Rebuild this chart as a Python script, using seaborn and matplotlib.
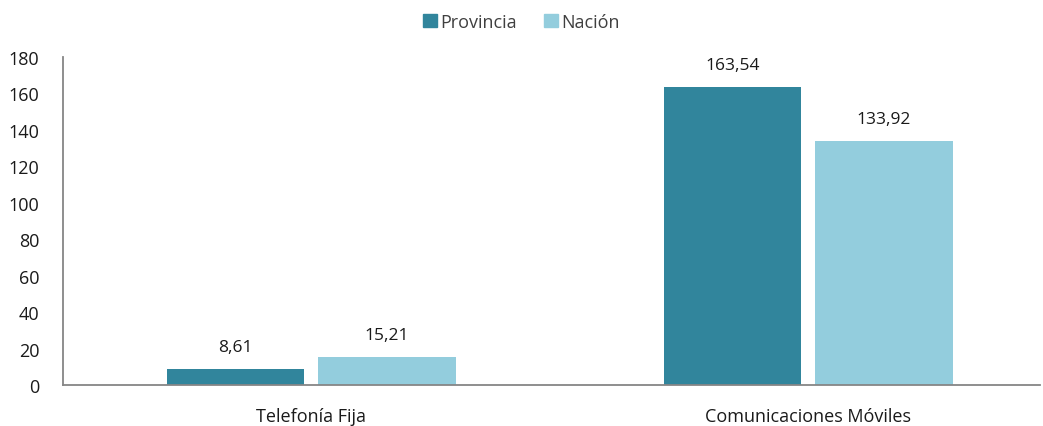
import matplotlib
matplotlib.use("Agg")
import matplotlib.pyplot as plt
import seaborn as sns
import pandas as pd

# datos
categorias = ["Telefonía Fija", "Comunicaciones Móviles"]
provincia = [8.61, 163.54]
nacion = [15.21, 133.92]
series = ["Provincia", "Nación"]
colores = ["#31859C", "#93CDDD"]

sns.set_style("white")
plt.rcParams['font.family'] = ['Open Sans', 'DejaVu Sans']

df = pd.DataFrame({
    "Categoria": categorias * 2,
    "Valor": provincia + nacion,
    "Serie": [series[0]] * 2 + [series[1]] * 2,
})

fig = plt.figure(figsize=(10.43, 4.27), dpi=100)
ax = fig.add_axes([63 / 1043, 1 - 386 / 427, (1040 - 63) / 1043, 328 / 427])

sns.barplot(data=df, x="Categoria", y="Valor", hue="Serie", order=categorias,
            hue_order=series, palette=colores, saturation=1, width=0.61,
            gap=0.092, linewidth=0, ax=ax, legend=False)

for cont in ax.containers:
    labels = [f"{v:.2f}".replace(".", ",") for v in cont.datavalues]
    ax.bar_label(cont, labels=labels, padding=10, fontsize=12.5, color="#1a1a1a")

ax.set_ylim(0, 180)
ax.set_yticks(range(0, 181, 20))
ax.set_xlim(-0.5, 1.467)
ax.set_xlabel("")
ax.set_ylabel("")
ax.tick_params(axis="both", length=0, labelsize=13, colors="#1a1a1a")
ax.tick_params(axis="x", pad=16)
ax.tick_params(axis="y", pad=17)
sns.despine(ax=ax, top=True, right=True)
for s in ["left", "bottom"]:
    ax.spines[s].set_color("#868686")
    ax.spines[s].set_linewidth(1.3)

handles = [plt.Rectangle((0, 0), 1, 1, color=c) for c in colores]
fig.legend(handles, series, loc="upper center", bbox_to_anchor=(0.5, 1.005), ncol=2,
           frameon=False, fontsize=13, handlelength=0.75, handleheight=0.75,
           handletextpad=0.2, columnspacing=1.5, labelcolor="#404040")

fig.savefig("out.png", dpi=100)
